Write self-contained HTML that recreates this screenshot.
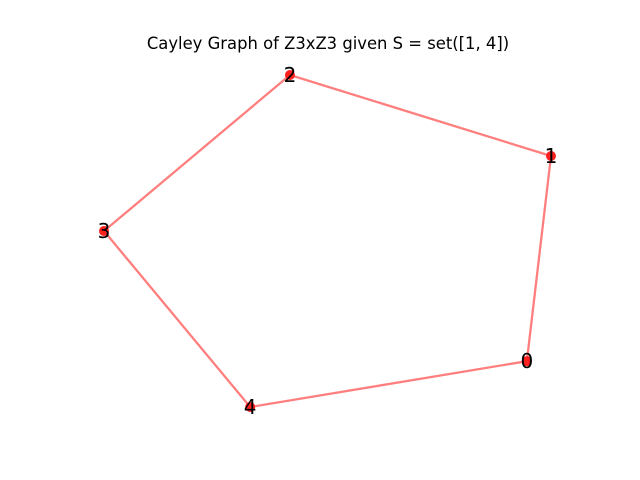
<!DOCTYPE html>
<html><head><meta charset="utf-8"><style>
html,body{margin:0;padding:0;background:#fff;}
svg{display:block;}
</style></head><body>
<svg id="chart" width="640" height="480">
<rect width="640" height="480" fill="#fff"/>
<text x="328" y="49" text-anchor="middle" font-family="DejaVu Sans, Liberation Sans, sans-serif" font-size="16.4" fill="#000">Cayley Graph of Z3xZ3 given S = set([1, 4])</text>
<g id="edges"></g><g id="nodes"></g><g id="labels"></g>
</svg>
<script>
const nodeIds = ["0","1","2","3","4"];
const nodeX = [0.946, 1.0, 0.416, 0.0, 0.327];
const nodeY = [0.138, 0.756, 1.0, 0.53, 0.0];
const edgeFrom = [0,1,2,3,4];
const edgeTo = [1,2,3,4,0];
const ns="http://www.w3.org/2000/svg";
function sx(v){return 104+v*(551-104);}
function sy(v){return 407-v*(407-75);}
const eg=document.getElementById('edges'),ng=document.getElementById('nodes'),lg=document.getElementById('labels');
for(let i=0;i<edgeFrom.length;i++){
 const a=edgeFrom[i],b=edgeTo[i];
 const l=document.createElementNS(ns,'line');
 l.setAttribute('x1',sx(nodeX[a]));l.setAttribute('y1',sy(nodeY[a]));
 l.setAttribute('x2',sx(nodeX[b]));l.setAttribute('y2',sy(nodeY[b]));
 l.setAttribute('stroke','#ff7f7f');l.setAttribute('stroke-width','2.3');
 
 
 eg.appendChild(l);
}
for(let i=0;i<nodeIds.length;i++){
 const c=document.createElementNS(ns,'circle');
 c.setAttribute('cx',sx(nodeX[i]));c.setAttribute('cy',sy(nodeY[i]));c.setAttribute('r','5');
 c.setAttribute('fill','#ff2020');
 
 
 ng.appendChild(c);
 const t=document.createElementNS(ns,'text');
 t.setAttribute('x',sx(nodeX[i]));t.setAttribute('y',sy(nodeY[i])+7);
 t.setAttribute('text-anchor','middle');t.setAttribute('font-size','20');
 t.setAttribute('font-family','DejaVu Sans, Liberation Sans, sans-serif');
 t.textContent=nodeIds[i];
 
 
 lg.appendChild(t);
}
</script>
</body></html>
